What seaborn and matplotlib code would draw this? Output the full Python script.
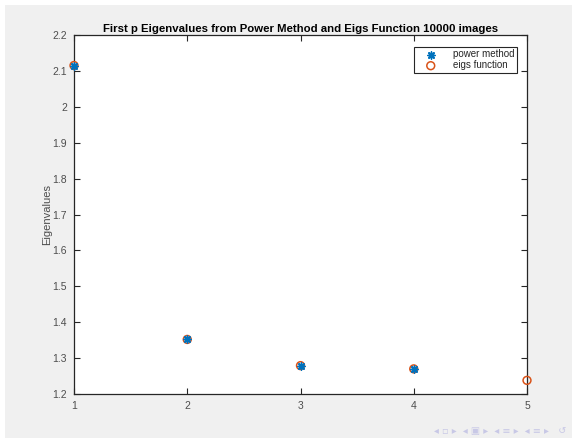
import numpy as np
import matplotlib
matplotlib.use("Agg")
import matplotlib.pyplot as plt
import seaborn as sns
from matplotlib.patches import Rectangle

# values
power_idx = [1, 2, 3, 4]
power_vals = [2.115, 1.352, 1.279, 1.270]
eigs_idx = [1, 2, 3, 4, 5]
eigs_vals = [2.115, 1.352, 1.279, 1.270, 1.238]
x_ticks = [1, 2, 3, 4, 5]
y_ticks = [1.2, 1.3, 1.4, 1.5, 1.6, 1.7, 1.8, 1.9, 2.0, 2.1, 2.2]
y_tick_labels = ['1.2', '1.3', '1.4', '1.5', '1.6', '1.7', '1.8', '1.9', '2', '2.1', '2.2']

sns.set_style("white")
plt.rcParams['font.family'] = ['Liberation Sans', 'DejaVu Sans']

blue = '#0072BD'
orange = '#D95319'
grey_txt = '#4d4d4d'

fig = plt.figure(figsize=(5.72, 4.38), dpi=100, facecolor='white')
# matlab figure background (screenshot has a thin white border top/left)
fig.patches.append(Rectangle((5 / 572, 0), 1, 433 / 438, transform=fig.transFigure,
                             facecolor='#f0f0f0', edgecolor='none', zorder=-10))

ax = fig.add_axes([74 / 572, 44 / 438, 453 / 572, 359 / 438])
ax.set_facecolor('white')

sns.scatterplot(x=eigs_idx, y=eigs_vals, ax=ax, marker='o', s=32,
                facecolors='none', edgecolor=orange, linewidth=1.1,
                label='eigs function', zorder=3, clip_on=False)
sns.scatterplot(x=power_idx, y=power_vals, ax=ax, marker=(8, 2, 0), s=26,
                color=blue, edgecolor=blue, linewidth=1.1,
                label='power method', zorder=4, clip_on=False)

ax.set_xlim(1, 5)
ax.set_ylim(1.2, 2.2)
ax.set_xticks(x_ticks)
ax.set_xticklabels([str(t) for t in x_ticks])
ax.set_yticks(y_ticks)
ax.set_yticklabels(y_tick_labels)
ax.tick_params(direction='in', length=4, width=0.8, colors='#262626',
               labelcolor=grey_txt, labelsize=7.5, top=True, right=True,
               bottom=True, left=True, pad=5)
for s in ax.spines.values():
    s.set_color('#262626')
    s.set_linewidth(0.9)
    s.set_visible(True)

ax.set_ylabel('Eigenvalues', fontsize=8, color=grey_txt, labelpad=0)
ax.set_title('First p Eigenvalues from Power Method and Eigs Function 10000 images',
             fontsize=8.2, fontweight='bold', color='black', pad=2)

handles, labels = ax.get_legend_handles_labels()
leg = ax.legend(handles[::-1], labels[::-1], loc='upper right',
                bbox_to_anchor=(0.978, 0.967), fontsize=7, frameon=True,
                fancybox=False, framealpha=1, edgecolor='#262626',
                borderpad=0.25, labelspacing=0.1, handletextpad=0.8,
                handlelength=3.0, borderaxespad=0)
leg.get_frame().set_linewidth(0.8)
for t in leg.get_texts():
    t.set_color('#262626')

# beamer navigation symbols at bottom right
fig.text(0.99, 0.005, '◂ ▫ ▸  ◂ ▣ ▸  ◂ ≡ ▸  ◂ ≡ ▸   ↺', ha='right', va='bottom',
         fontsize=7, color='#c8c8e6', family=['DejaVu Sans'])

fig.savefig('out.png', dpi=100, facecolor=fig.get_facecolor())
